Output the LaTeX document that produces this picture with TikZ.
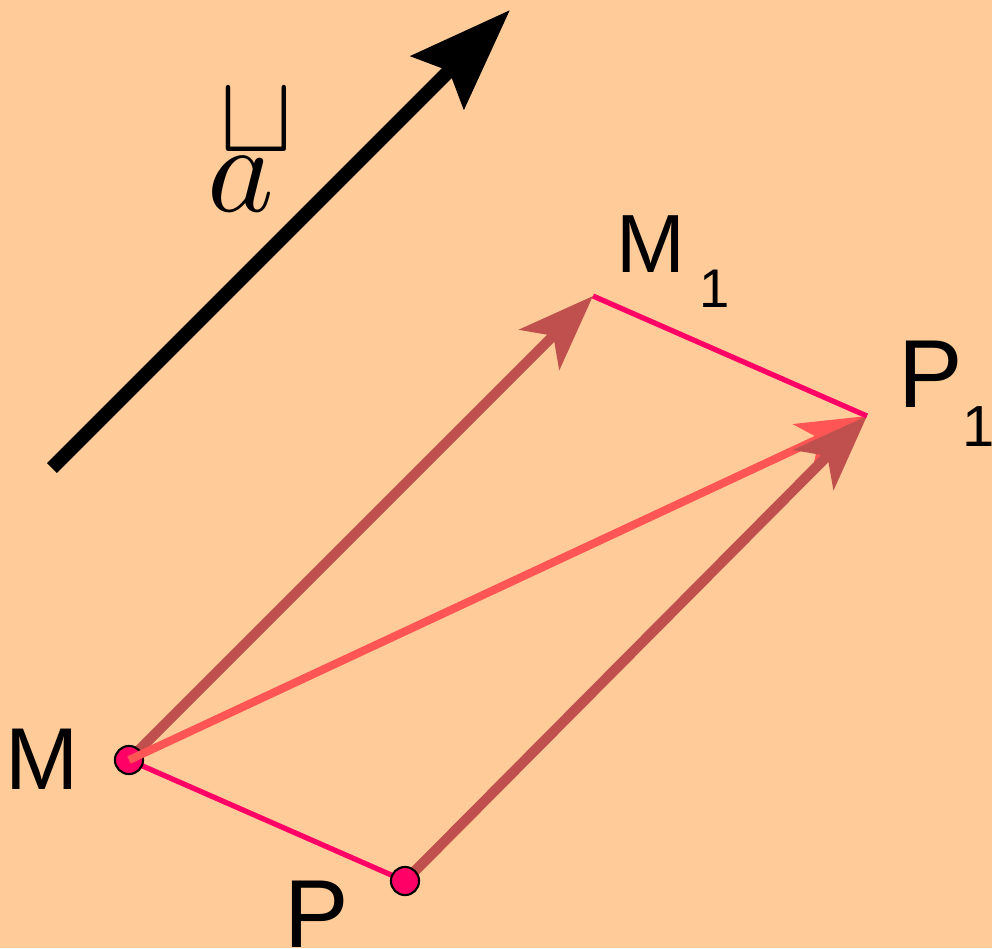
\documentclass[tikz,border=0pt]{standalone}
\usepackage{fontspec}
\setmainfont{Liberation Sans}
\usepackage{graphicx}
\usepackage{xcolor}
\usetikzlibrary{arrows.meta}
\definecolor{clrBg}{RGB}{255,204,153}
\definecolor{clrBr}{RGB}{192,80,77}
\definecolor{clrLR}{RGB}{255,85,85}
\definecolor{clrPk}{RGB}{255,0,102}
\newcommand{\lbl}[1]{\fontsize{#1}{#1}\selectfont}

\begin{document}
\begin{tikzpicture}[x=0.02cm,y=-0.02cm,
    vecbig/.style={line width=8pt,-{Stealth[length=58pt,width=42pt,inset=9pt]}},
    vecbr/.style={clrBr,line width=5.8pt,-{Stealth[length=43pt,width=32pt,inset=11pt]}},
    veclr/.style={clrLR,line width=4.6pt,-{Stealth[length=40pt,width=27pt,inset=10pt]}},
    side/.style={clrPk,line width=3pt},
    dot/.style={circle,fill=clrPk,draw=black,line width=1.2pt,minimum size=16pt,inner sep=0pt},
    pt/.style={anchor=base west,inner sep=0pt}]
  \fill[clrBg] (0,0) rectangle (992,948);
  \useasboundingbox (0,0) rectangle (992,948);

  % points
  \coordinate (M) at (129,760);
  \coordinate (P) at (405,881);
  \coordinate (M1) at (593,296);
  \coordinate (P1) at (867,416);
  \coordinate (a0) at (52,468);
  \coordinate (a1) at (510,10);

  % vector a
  \draw[vecbig] (a0) -- (a1);
  \node[pt] (la) at (207,211) {\scalebox{7.2}{$a$}};
  \node[inner sep=0pt] (lcup) at (256,121) {\scalebox{6.3}{$\sqcup$}};

  % translation
  \draw[side] (M) -- (P);
  \draw[vecbr] (M) -- (M1);
  \node[dot] (dM) at (M) {};
  \draw[veclr] (M) -- (P1);
  \draw[vecbr] (P) -- (P1);
  \node[dot] (dP) at (P) {};
  \draw[side] (M1) -- (P1);

  % labels
  \node[pt] (lM) at (5,789) {\lbl{50pt}M};
  \node[pt] (lM1) at (616,272) {\lbl{47pt}M\kern8pt\raisebox{-20pt}{\lbl{31pt}1}};
  \node[pt] (lP1) at (898,407) {\lbl{55pt}P\raisebox{-22.7pt}{\lbl{33pt}1}};
  \node[pt] (lP) at (284,947) {\lbl{55pt}P};
\end{tikzpicture}
\end{document}
